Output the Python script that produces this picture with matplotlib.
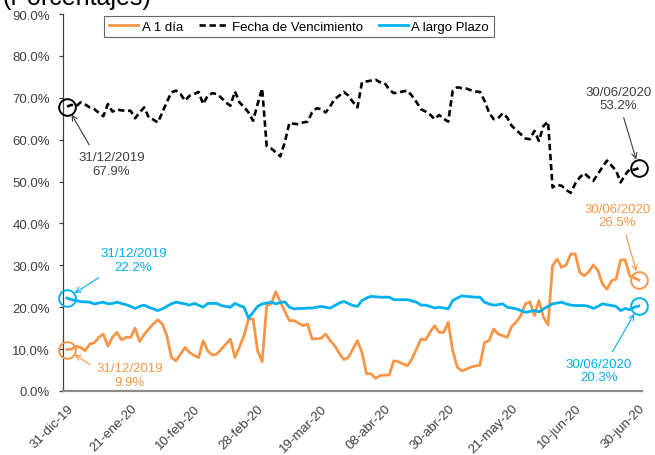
import matplotlib
matplotlib.use("Agg")
import matplotlib.pyplot as plt
from matplotlib.ticker import FuncFormatter

plt.rcParams['font.family'] = ['Liberation Sans', 'DejaVu Sans']

# Tick labels every 14 business days
tick_labels = ["31-dic-19", "21-ene-20", "10-feb-20", "28-feb-20", "19-mar-20",
               "08-abr-20", "30-abr-20", "21-may-20", "10-jun-20", "30-jun-20"]
tick_step = 14

# Share by term (%)
a_1_dia = [
    9.9, 10.0, 10.7, 10.4, 9.6, 11.2, 11.5, 12.8, 13.6, 10.7,
    12.8, 14.0, 12.2, 12.8, 12.8, 15.0, 11.8, 13.5, 14.8, 16.0,
    17.0, 16.0, 13.2, 8.0, 7.2, 8.8, 10.4, 9.2, 8.5, 8.0,
    12.0, 9.6, 8.6, 8.8, 10.0, 11.2, 12.4, 8.0, 10.5, 13.2,
    17.2, 17.2, 9.6, 7.0, 20.4, 20.8, 23.7, 21.3, 19.0, 16.8,
    16.8, 16.2, 15.6, 16.0, 12.4, 12.5, 12.6, 13.6, 12.0, 10.8,
    9.0, 7.5, 8.0, 10.0, 12.0, 9.2, 4.1, 4.1, 3.0, 3.7,
    3.8, 3.8, 7.2, 7.0, 6.5, 6.0, 7.6, 10.0, 12.4, 12.2,
    14.0, 15.6, 14.0, 14.0, 16.4, 9.6, 5.7, 4.8, 5.2, 5.7,
    6.0, 6.2, 11.6, 12.0, 14.8, 13.6, 13.2, 12.8, 15.4, 16.5,
    18.0, 20.8, 21.3, 18.0, 21.6, 17.6, 15.8, 29.9, 31.5, 29.5,
    30.1, 32.7, 32.7, 28.3, 27.5, 28.5, 30.1, 28.8, 25.5, 24.3,
    26.3, 26.7, 31.3, 31.3, 27.5, 27.0, 26.5,
]

fecha_vencimiento = [
    67.9, 68.3, 68.0, 68.9, 68.4, 67.7, 67.3, 66.4, 65.6, 68.5,
    66.7, 67.2, 67.0, 66.9, 66.9, 65.1, 66.5, 67.7, 65.3, 64.8,
    64.1, 66.5, 69.0, 71.3, 71.7, 70.9, 69.3, 70.5, 70.9, 71.4,
    68.5, 70.5, 71.1, 70.9, 70.0, 68.9, 68.1, 71.5, 68.9, 67.8,
    66.5, 64.5, 68.5, 72.2, 58.5, 57.9, 57.0, 56.0, 59.4, 64.0,
    63.8, 63.7, 64.1, 64.3, 66.5, 67.5, 67.3, 66.5, 68.0, 69.7,
    70.5, 71.4, 70.5, 69.0, 67.7, 73.7, 73.9, 74.1, 74.3, 73.7,
    73.5, 72.0, 71.1, 71.3, 71.5, 71.7, 70.5, 69.0, 67.3, 66.7,
    66.0, 64.9, 65.9, 65.0, 64.3, 71.7, 72.5, 72.3, 72.2, 71.8,
    71.5, 71.4, 69.3, 66.5, 64.9, 65.1, 66.3, 65.3, 63.3, 62.3,
    61.3, 60.3, 60.1, 62.1, 59.7, 63.3, 64.3, 48.6, 49.2, 49.0,
    48.0, 47.3, 49.5, 51.0, 52.0, 51.0, 50.2, 51.8, 53.5, 55.0,
    53.8, 52.6, 49.8, 51.6, 53.0, 52.8, 53.2,
]

a_largo_plazo = [
    22.2, 21.8, 21.6, 21.3, 21.3, 21.2, 20.8, 21.0, 21.2, 20.8,
    20.9, 21.2, 20.9, 20.6, 20.2, 19.7, 20.2, 20.5, 20.0, 19.6,
    19.2, 19.6, 20.2, 20.8, 21.2, 21.0, 20.8, 20.5, 20.9, 20.5,
    20.0, 20.9, 20.9, 20.9, 20.4, 20.2, 20.0, 20.9, 20.4, 20.0,
    17.4, 18.8, 20.2, 20.8, 21.0, 21.2, 20.8, 21.1, 21.3, 20.0,
    19.6, 19.7, 19.7, 19.8, 19.8, 20.0, 20.2, 20.0, 19.8, 20.4,
    21.0, 21.4, 20.9, 20.4, 20.2, 21.6, 22.2, 22.6, 22.5, 22.4,
    22.4, 22.4, 21.8, 21.8, 21.8, 21.8, 21.5, 21.2, 20.5, 20.5,
    20.2, 19.8, 20.0, 19.8, 19.6, 21.6, 22.2, 22.7, 22.6, 22.5,
    22.4, 22.4, 21.2, 20.8, 20.5, 20.6, 20.8, 20.0, 19.8, 19.6,
    19.2, 18.8, 19.0, 19.2, 18.9, 19.6, 20.2, 20.8, 21.0, 21.2,
    20.8, 20.5, 20.4, 20.4, 20.4, 20.2, 19.7, 20.2, 20.8, 20.6,
    20.4, 20.2, 19.2, 19.7, 19.4, 20.0, 20.3,
]

series_names = ["A 1 día", "Fecha de Vencimiento", "A largo Plazo"]
start_date, end_date = "31/12/2019", "30/06/2020"

ORANGE = "#F79646"
BLUE = "#00B0F0"
BLACK = "#000000"
GREY_TXT = "#404040"

W, H = 655, 456
fig = plt.figure(figsize=(W / 100, H / 100), dpi=100)
ax = fig.add_axes([62.5 / W, 1 - 392 / H, (641.5 - 62.5) / W, (392 - 15) / H])

x = list(range(len(a_1_dia)))
ax.plot(x, a_1_dia, color=ORANGE, lw=2.0, label=series_names[0], solid_joinstyle="round")
ax.plot(x, fecha_vencimiento, color=BLACK, lw=1.9, dashes=(2.4, 1.4),
        label=series_names[1])
ax.plot(x, a_largo_plazo, color=BLUE, lw=2.0, label=series_names[2], solid_joinstyle="round")

ax.set_xlim(-1, len(x) - 1 + 0.6)
ax.set_ylim(0, 90)
ax.set_yticks(range(0, 91, 10))
ax.yaxis.set_major_formatter(FuncFormatter(lambda v, _: f"{v:.1f}%"))
ax.set_xticks(range(0, len(x), tick_step))
ax.set_xticklabels(tick_labels, rotation=45, ha="right", rotation_mode="anchor")

for s in ("top", "right"):
    ax.spines[s].set_visible(False)
ax.spines["left"].set_color("#404040")
ax.spines["left"].set_linewidth(0.9)
ax.spines["bottom"].set_color("#8C8C8C")
ax.spines["bottom"].set_linewidth(1.6)
ax.tick_params(axis="y", direction="out", length=3, width=0.9, color="#404040",
               labelsize=9.5, labelcolor=GREY_TXT, pad=6)
ax.tick_params(axis="x", length=0, labelsize=9.5, labelcolor=GREY_TXT, pad=8)

# Endpoint markers and callouts
last = len(x) - 1
callouts = [
    (0, fecha_vencimiento[0], BLACK, GREY_TXT, start_date, (9.8, 54.2), (0.22, 1.0)),
    (last, fecha_vencimiento[last], BLACK, GREY_TXT, end_date, (121.5, 69.9), (0.55, 0.0)),
    (0, a_largo_plazo[0], BLUE, BLUE, start_date, (14.6, 31.3), (0.1, 0.0)),
    (last, a_largo_plazo[last], BLUE, BLUE, end_date, (117.2, 4.85), (0.65, 1.0)),
    (0, a_1_dia[0], ORANGE, ORANGE, start_date, (13.8, 3.8), (0.0, 0.75)),
    (last, a_1_dia[last], ORANGE, ORANGE, end_date, (121.3, 41.9), (0.6, 0.0)),
]
for xi, yi, mcol, tcol, date, txy, rel in callouts:
    ax.plot([xi], [yi], marker="o", ms=12, mfc="none", mec=mcol, mew=1.4,
            clip_on=False, zorder=5)
    ax.annotate(f"{date}\n{yi:.1f}%", xy=(xi, yi), xytext=txy,
                ha="center", va="center", fontsize=9.5, color=tcol,
                linespacing=1.15,
                arrowprops=dict(arrowstyle="->", color=tcol, lw=0.8,
                                relpos=rel, shrinkA=3, shrinkB=6.5))

leg = fig.legend(loc="upper left", bbox_to_anchor=(104 / W, 1 - 17 / H), ncol=3,
                 fontsize=9.5, frameon=True, fancybox=False, edgecolor="#404040",
                 handlelength=2.2, handletextpad=0.3, columnspacing=1.2,
                 borderpad=0.35, borderaxespad=0, labelcolor="#000000")
leg.get_frame().set_linewidth(0.8)

fig.text(2 / W, 1 - 5 / H, "(Porcentajes)", fontsize=18, va="baseline", ha="left",
         color="#000000")

fig.savefig("out.png", dpi=100)
